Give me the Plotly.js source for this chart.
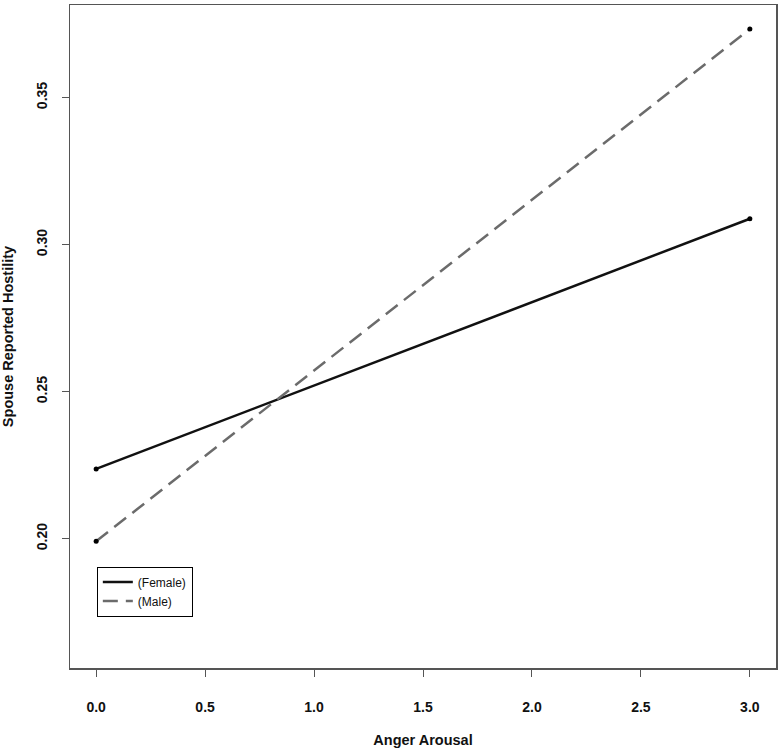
<!DOCTYPE html>
<html>
<head>
<meta charset="utf-8">
<script src="https://cdn.plot.ly/plotly-3.0.1.min.js"></script>
<style>html,body{margin:0;padding:0;background:#fff;}#chart{width:780px;height:750px;}</style>
</head>
<body>
<div id="chart"></div>
<script>
var angerArousal = [0, 3];
var femaleHostility = [0.2237, 0.3088];
var maleHostility = [0.1991, 0.3733];
var seriesNames = ["(Female)", "(Male)"];
var xTicks = [0, 0.5, 1, 1.5, 2, 2.5, 3];
var xTickLabels = ["0.0", "0.5", "1.0", "1.5", "2.0", "2.5", "3.0"];
var yTicks = [0.20, 0.25, 0.30, 0.35];
var yTickLabels = ["0.20", "0.25", "0.30", "0.35"];

var fontFam = "Liberation Sans, Arial, Helvetica, sans-serif";

var traces = [
  {x: angerArousal, y: femaleHostility, mode: "lines", name: seriesNames[0],
   line: {color: "#111111", width: 2.5}},
  {x: angerArousal, y: maleHostility, mode: "lines", name: seriesNames[1],
   line: {color: "#6b6b6b", width: 2.5, dash: "15px,8px"}},
  {x: angerArousal.concat(angerArousal), y: femaleHostility.concat(maleHostility),
   mode: "markers", showlegend: false, hoverinfo: "skip",
   marker: {color: "#000000", size: 5}}
];

var axisCommon = {
  showgrid: false, zeroline: false, showline: true, mirror: true,
  linecolor: "#555555", linewidth: 1.5,
  ticks: "outside", ticklen: 7, tickwidth: 1, tickcolor: "#555555",
  tickfont: {family: fontFam, size: 14, color: "#111111", weight: "bold"},
  tickmode: "array"
};

var layout = {
  width: 780, height: 750,
  margin: {l: 70, r: 4, t: 5, b: 82},
  paper_bgcolor: "#ffffff", plot_bgcolor: "#ffffff",
  font: {family: fontFam, color: "#111111"},
  xaxis: Object.assign({}, axisCommon, {
    range: [-0.12, 3.12],
    tickvals: xTicks, ticktext: xTickLabels,
    ticklabelstandoff: 19,
    title: {text: "Anger Arousal", font: {family: fontFam, size: 14.5, weight: "bold", color: "#111111"}, standoff: 20}
  }),
  yaxis: Object.assign({}, axisCommon, {
    range: [0.156, 0.3815],
    tickvals: yTicks, ticktext: yTickLabels,
    tickangle: -90,
    ticklabelstandoff: 9,
    title: {text: "Spouse Reported Hostility", font: {family: fontFam, size: 14.5, weight: "bold", color: "#111111"}, standoff: 20}
  }),
  legend: {
    x: 0.038, y: 0.153, xanchor: "left", yanchor: "top",
    bordercolor: "#000000", borderwidth: 1, bgcolor: "#ffffff",
    font: {family: fontFam, size: 12, color: "#111111"},
    tracegroupgap: 0, itemwidth: 30
  },
  showlegend: true
};

Plotly.newPlot("chart", traces, layout, {displayModeBar: false, staticPlot: true});
</script>
</body>
</html>
